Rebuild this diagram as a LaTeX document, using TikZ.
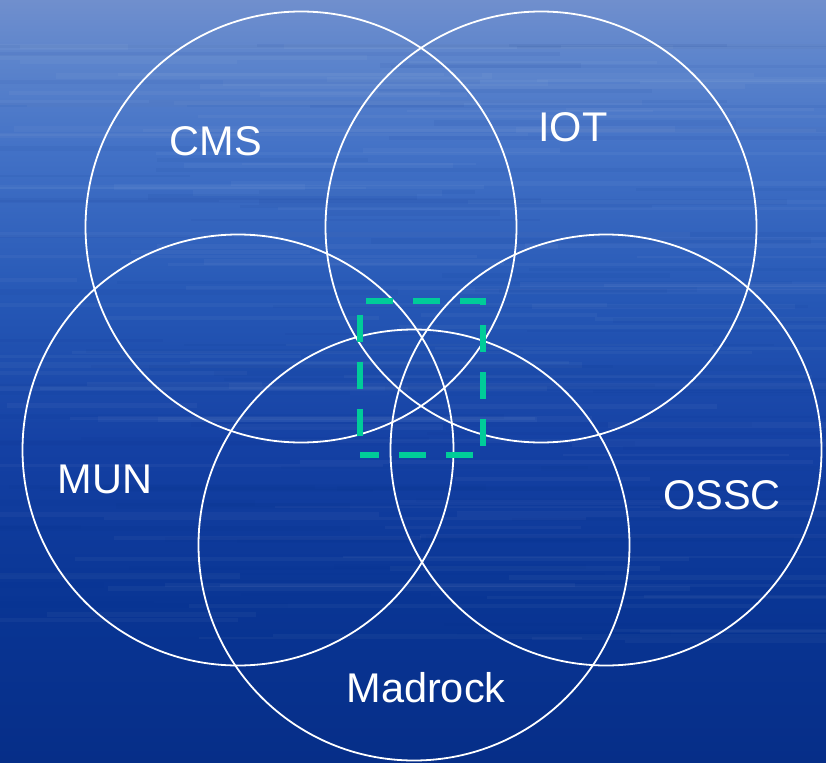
\documentclass[tikz,border=0pt]{standalone}
\usepackage{fontspec}
\setmainfont{Liberation Sans}

% sea-blue backdrop, light at the top, deep blue at the bottom
\definecolor{sea0}{RGB}{6,46,136}
\definecolor{sea1}{RGB}{9,53,148}
\definecolor{sea2}{RGB}{20,64,163}
\definecolor{sea3}{RGB}{38,88,182}
\definecolor{sea4}{RGB}{66,113,198}
\definecolor{sea5}{RGB}{92,132,204}
\definecolor{sea6}{RGB}{112,143,205}
\definecolor{zonegreen}{RGB}{0,204,153}

% TikZ fits a path to the middle band (25bp--75bp) of a shading
\pgfdeclareverticalshading{sea}{100bp}{color(0bp)=(sea0); color(25bp)=(sea0);
  color(35.5bp)=(sea1); color(45.5bp)=(sea2); color(55.5bp)=(sea3);
  color(65bp)=(sea4); color(71bp)=(sea5); color(75bp)=(sea6); color(100bp)=(sea6)}

\begin{document}
\begin{tikzpicture}[x=1pt,y=-1pt,
  ring/.style={circle, draw=white, line width=1.8pt, minimum size=431pt, inner sep=0pt},
  tag/.style={text=white, font=\fontsize{41.5}{50}\selectfont, anchor=base, inner sep=0pt},
  zone/.style={rectangle, minimum width=123pt, minimum height=154pt, inner sep=0pt},
  zoneline/.style={draw=zonegreen, line width=6.5pt, line cap=butt, line join=miter,
    dash pattern=on 27pt off 20pt, dash phase=8pt}]

\useasboundingbox (0,0) rectangle (826,762);
\begin{scope}
  \clip (0,0) rectangle (826,762);
  \fill[shading=sea] (0,0) rectangle (826,762);
  % faint horizontal ripples on the water
  \pgfmathsetseed{42}
  \foreach \i in {1,...,110} {
    \pgfmathsetmacro{\yy}{40+rnd*600}
    \pgfmathsetmacro{\xx}{-150+rnd*800}
    \pgfmathsetmacro{\ll}{150+rnd*600}
    \pgfmathsetmacro{\hh}{2+rnd*4}
    \fill[white, opacity=0.035] (\xx,\yy) rectangle ++(\ll,\hh);
  }
  \foreach \i in {1,...,90} {
    \pgfmathsetmacro{\yy}{40+rnd*600}
    \pgfmathsetmacro{\xx}{-150+rnd*800}
    \pgfmathsetmacro{\ll}{150+rnd*600}
    \pgfmathsetmacro{\hh}{2+rnd*4}
    \fill[sea0, opacity=0.06] (\xx,\yy) rectangle ++(\ll,\hh);
  }
\end{scope}

% the five overlapping sets
\node[ring] (cms) at (301,227) {};
\node[ring] (iot) at (541,227) {};
\node[ring] (mun) at (238,450) {};
\node[ring] (ossc) at (606,450) {};
\node[ring] (madrock) at (414,545) {};

\node[tag] (cmslabel) at (216,156) {CMS};
\node[tag] (iotlabel) at (573,142) {IOT};
\node[tag] (munlabel) at (105,493) {MUN};
\node[tag] (osscLabel) at (722,509) {OSSC};
\node[tag] (madrocklabel) at (426,702) {Madrock};

% dashed frame around the common core
\node[zone] (core) at (421.5,378) {};
\draw[zoneline] (core.south west) -- (core.south east) -- (core.north east)
  -- (core.north west) -- cycle;
\end{tikzpicture}
\end{document}
